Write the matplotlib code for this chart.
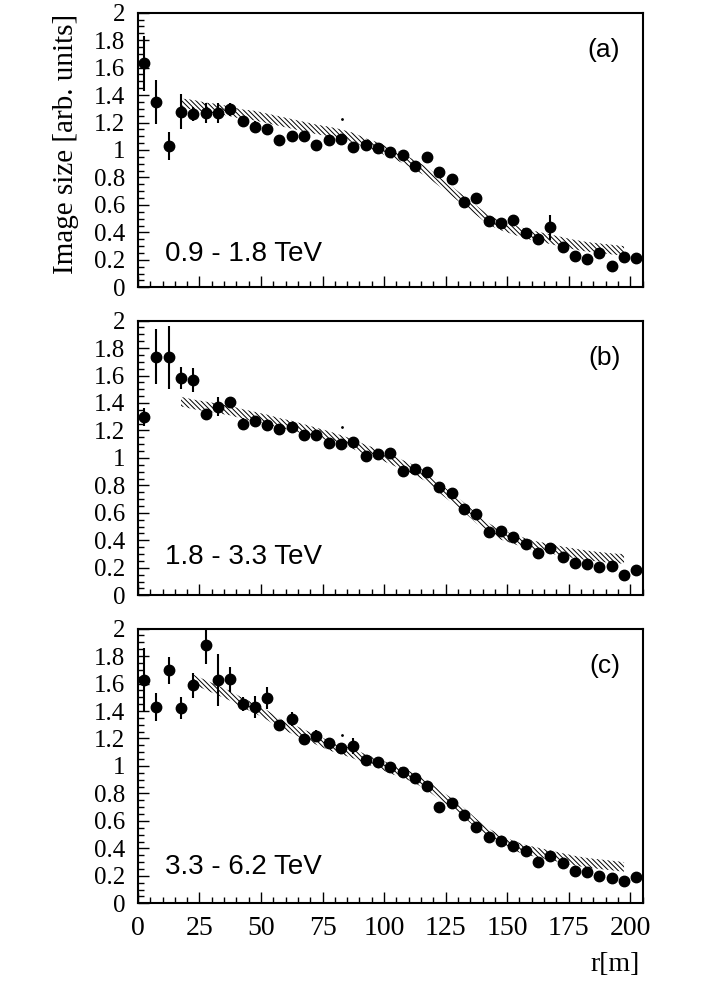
"""
Image size vs. core distance r for three energy bins, with hatched model bands.
"""
import matplotlib
matplotlib.use('Agg')
import matplotlib.pyplot as plt
from matplotlib.ticker import MultipleLocator, FuncFormatter

# core distance bins (m)
R = [2.5, 7.5, 12.5, 17.5, 22.5, 27.5, 32.5, 37.5, 42.5, 47.5,
     52.5, 57.5, 62.5, 67.5, 72.5, 77.5, 82.5, 87.5, 92.5, 97.5,
     102.5, 107.5, 112.5, 117.5, 122.5, 127.5, 132.5, 137.5, 142.5, 147.5,
     152.5, 157.5, 162.5, 167.5, 172.5, 177.5, 182.5, 187.5, 192.5, 197.5,
     202.5]

# (a) 0.9 - 1.8 TeV
SIZE_A = [1.63, 1.35, 1.03, 1.28, 1.26, 1.27, 1.27, 1.295, 1.21, 1.17,
          1.155, 1.075, 1.10, 1.105, 1.04, 1.07, 1.08, 1.025, 1.04, 1.017,
          0.983, 0.964, 0.886, 0.947, 0.838, 0.787, 0.619, 0.648, 0.485, 0.471,
          0.490, 0.393, 0.352, 0.437, 0.296, 0.228, 0.204, 0.248, 0.157, 0.223,
          0.216]
ERR_A = [0.20, 0.16, 0.10, 0.13, 0.05, 0.07, 0.075, 0.05, 0.03, 0.04,
         0.03, 0.025, 0.025, 0.025, 0.025, 0.025, 0.025, 0.025, 0.025, 0.025,
         0.025, 0.025, 0.025, 0.03, 0.03, 0.03, 0.03, 0.03, 0.03, 0.03,
         0.03, 0.03, 0.03, 0.09, 0.025, 0.025, 0.025, 0.025, 0.025, 0.025,
         0.025]

# (b) 1.8 - 3.3 TeV
SIZE_B = [1.296, 1.738, 1.733, 1.58, 1.568, 1.32, 1.374, 1.405, 1.248, 1.272,
          1.24, 1.209, 1.228, 1.167, 1.167, 1.112, 1.102, 1.119, 1.017, 1.027,
          1.039, 0.908, 0.92, 0.895, 0.791, 0.747, 0.626, 0.59, 0.463, 0.471,
          0.427, 0.374, 0.306, 0.342, 0.277, 0.238, 0.228, 0.208, 0.216, 0.148,
          0.184]
ERR_B = [0.065, 0.20, 0.23, 0.08, 0.09, 0.03, 0.07, 0.04, 0.04, 0.03,
         0.025, 0.025, 0.025, 0.025, 0.025, 0.025, 0.025, 0.025, 0.025, 0.025,
         0.025, 0.025, 0.025, 0.025, 0.025, 0.025, 0.025, 0.025, 0.025, 0.025,
         0.025, 0.025, 0.025, 0.025, 0.025, 0.025, 0.025, 0.025, 0.025, 0.025,
         0.025]

# (c) 3.3 - 6.2 TeV
SIZE_C = [1.629, 1.43, 1.697, 1.423, 1.588, 1.879, 1.624, 1.631, 1.449, 1.43,
          1.495, 1.297, 1.34, 1.195, 1.219, 1.164, 1.132, 1.146, 1.042, 1.03,
          0.989, 0.953, 0.916, 0.854, 0.703, 0.727, 0.642, 0.557, 0.48, 0.453,
          0.419, 0.383, 0.298, 0.344, 0.291, 0.237, 0.23, 0.199, 0.186, 0.162,
          0.194]
ERR_C = [0.23, 0.10, 0.10, 0.08, 0.09, 0.14, 0.19, 0.09, 0.05, 0.08,
         0.08, 0.03, 0.05, 0.03, 0.04, 0.03, 0.03, 0.06, 0.025, 0.025,
         0.025, 0.025, 0.025, 0.025, 0.025, 0.025, 0.025, 0.025, 0.025, 0.025,
         0.025, 0.025, 0.025, 0.025, 0.025, 0.025, 0.025, 0.025, 0.025, 0.025,
         0.025]

# model bands (centre values)
BAND_R_AB = [17.5, 22.5, 27.5, 32.5, 37.5, 42.5, 47.5, 52.5, 57.5, 62.5,
             67.5, 72.5, 77.5, 82.5, 87.5, 92.5, 97.5, 102.5, 107.5, 112.5,
             117.5, 122.5, 127.5, 132.5, 137.5, 142.5, 147.5, 152.5, 157.5, 162.5,
             167.5, 172.5, 177.5, 182.5, 187.5, 192.5, 197.5]
BAND_A = [1.34, 1.33, 1.31, 1.30, 1.28, 1.26, 1.25, 1.23, 1.21, 1.19,
          1.17, 1.15, 1.135, 1.115, 1.09, 1.05, 1.02, 0.98, 0.94, 0.89,
          0.84, 0.77, 0.70, 0.63, 0.56, 0.49, 0.45, 0.42, 0.39, 0.37,
          0.35, 0.33, 0.31, 0.295, 0.285, 0.275, 0.265]
BAND_B = [1.41, 1.39, 1.375, 1.36, 1.345, 1.32, 1.30, 1.28, 1.255, 1.235,
          1.21, 1.185, 1.16, 1.13, 1.10, 1.06, 1.03, 0.99, 0.95, 0.91,
          0.86, 0.78, 0.71, 0.64, 0.56, 0.49, 0.44, 0.41, 0.38, 0.355,
          0.34, 0.32, 0.305, 0.29, 0.28, 0.27, 0.265]
BAND_R_C = [22.5, 27.5, 32.5, 37.5, 42.5, 47.5, 52.5, 57.5, 62.5,
            67.5, 72.5, 77.5, 82.5, 87.5, 92.5, 97.5, 102.5, 107.5, 112.5,
            117.5, 122.5, 127.5, 132.5, 137.5, 142.5, 147.5, 152.5, 157.5, 162.5,
            167.5, 172.5, 177.5, 182.5, 187.5, 192.5, 197.5]
BAND_C = [1.63, 1.59, 1.55, 1.51, 1.46, 1.42, 1.37, 1.31, 1.27,
          1.23, 1.19, 1.15, 1.12, 1.09, 1.05, 1.02, 0.98, 0.95, 0.91,
          0.86, 0.79, 0.73, 0.66, 0.58, 0.51, 0.46, 0.42, 0.39, 0.37,
          0.35, 0.33, 0.31, 0.295, 0.285, 0.275, 0.265]
BAND_HALF = 0.035

ENERGY_LABELS = ['0.9 - 1.8 TeV', '1.8 - 3.3 TeV', '3.3 - 6.2 TeV']
PANEL_TAGS = ['(a)', '(b)', '(c)']
X_TICKS = [0, 25, 50, 75, 100, 125, 150, 175, 200]

SERIF = 'Liberation Serif'
SANS = 'Liberation Sans'

plt.rcParams['hatch.linewidth'] = 0.7


def draw_panel(ax, size, err, band_r, band, energy, tag, label_y, bottom):
    lo = [b - BAND_HALF for b in band]
    hi = [b + BAND_HALF for b in band]
    ax.fill_between(band_r, lo, hi, facecolor='none', edgecolor='black',
                    hatch='\\' * 7, linewidth=0)
    ax.errorbar(R, size, yerr=err, fmt='o', color='black', ms=7.5,
                elinewidth=1.5, capsize=0)
    # stray dot seen in all three panels
    ax.plot([83], [1.225], 'o', color='black', ms=1)

    ax.set_xlim(0, 205)
    ax.set_ylim(0, 2)
    ax.xaxis.set_major_locator(MultipleLocator(25))
    ax.xaxis.set_minor_locator(MultipleLocator(5))
    ax.yaxis.set_major_locator(MultipleLocator(0.2))
    ax.yaxis.set_minor_locator(MultipleLocator(0.05))
    ax.yaxis.set_major_formatter(FuncFormatter(lambda v, p: '{:g}'.format(round(v, 2))))
    ax.tick_params(which='both', direction='in', top=False, right=False, width=1)
    ax.tick_params(which='major', length=8)
    ax.tick_params(which='minor', length=4)
    ax.tick_params(axis='y', labelsize=18, pad=9)
    ax.tick_params(axis='x', labelsize=20, pad=9)
    for lab in ax.get_xticklabels() + ax.get_yticklabels():
        lab.set_family(SERIF)
    if bottom:
        ax.set_xticks(X_TICKS)
    else:
        ax.tick_params(axis='x', labelbottom=False)
    for sp in ax.spines.values():
        sp.set_linewidth(1.5)

    ax.text(11, label_y, energy, family=SANS, fontsize=20, va='baseline')
    ax.text(196, 1.73, tag, family=SANS, fontsize=19, ha='right', va='center')


def main():
    fig = plt.figure(figsize=(7.26, 9.81), dpi=100)
    left, width, height = 0.190, 0.695, 0.2800
    bottoms = [0.7071, 0.3932, 0.0792]
    sizes = [SIZE_A, SIZE_B, SIZE_C]
    errs = [ERR_A, ERR_B, ERR_C]
    bands = [(BAND_R_AB, BAND_A), (BAND_R_AB, BAND_B), (BAND_R_C, BAND_C)]
    label_ys = [0.19, 0.23, 0.21]
    for i in range(3):
        ax = fig.add_axes([left, bottoms[i], width, height])
        draw_panel(ax, sizes[i], errs[i], bands[i][0], bands[i][1],
                   ENERGY_LABELS[i], PANEL_TAGS[i], label_ys[i], i == 2)

    fig.text(66 / 726, 1 - 14 / 981, 'Image size [arb. units]', rotation=90,
             ha='center', va='top', fontsize=21, family=SERIF)
    fig.text(640 / 726, 1 - 971 / 981, 'r[m]', ha='right', va='baseline',
             fontsize=20, family=SERIF)
    fig.savefig('out.png', dpi=100)


if __name__ == '__main__':
    main()
